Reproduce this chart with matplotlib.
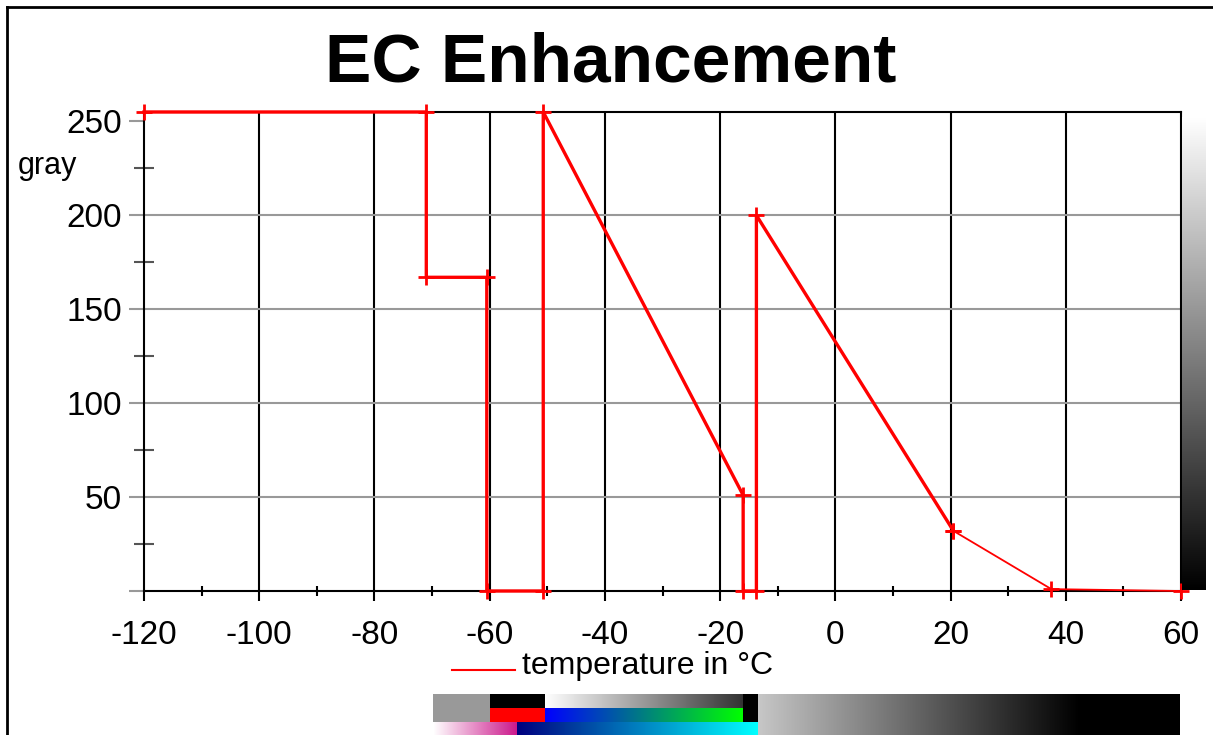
import numpy as np
import matplotlib
matplotlib.use("Agg")
import matplotlib.pyplot as plt
from matplotlib.lines import Line2D

plt.rcParams['font.family'] = ['Liberation Sans', 'DejaVu Sans']
plt.rcParams['axes.unicode_minus'] = False

# enhancement curve: temperature (deg C) -> gray level
temps = [-120, -71, -71, -60.5, -60.5, -50.7, -50.7, -16, -16, -13.7, -13.7, 20.5, 37.5, 60]
grays = [255, 255, 167, 167, 0, 0, 255, 51, 0, 0, 200, 32, 1, 0]

x_ticks = [-120, -100, -80, -60, -40, -20, 0, 20, 40, 60]
y_ticks = [0, 50, 100, 150, 200, 250]
y_labels = ['', '50', '100', '150', '200', '250']
grid_y = [50, 100, 150, 200]

W, H = 1213, 735
fig = plt.figure(figsize=(W / 100, H / 100), dpi=100)

ax = fig.add_axes([144 / W, 144 / H, 1037 / W, 479 / H])
ax.set_xlim(-120, 60)
ax.set_ylim(0, 255)

# grid
for gx in x_ticks[1:-1]:
    ax.axvline(gx, color='black', lw=1.5, zorder=1)
for gy in grid_y:
    ax.axhline(gy, color='#999999', lw=1.5, zorder=1)

# curve: thick part and thin tail
ax.plot(temps[:12], grays[:12], color='red', lw=2.4, marker='+', ms=12, mew=2,
        clip_on=False, zorder=3)
ax.plot(temps[11:], grays[11:], color='red', lw=1.3, marker='+', ms=12, mew=2,
        clip_on=False, zorder=3)

for s in ax.spines.values():
    s.set_color('black')
    s.set_linewidth(1.5)

ax.set_xticks(x_ticks)
ax.set_xticklabels([str(v) for v in x_ticks])
ax.set_xticks(np.arange(-110, 60, 20), minor=True)
ax.set_yticks(y_ticks)
ax.set_yticklabels(y_labels)
ax.set_yticks(np.arange(25, 250, 50), minor=True)

ax.tick_params(axis='x', which='major', direction='out', length=7, width=1.5,
               color='black', labelsize=24, pad=14)
ax.tick_params(axis='x', which='minor', direction='inout', length=7, width=1.5,
               color='black')
ax.tick_params(axis='y', which='major', direction='out', length=11, width=1.5,
               color='#999999', labelsize=24, pad=5)
ax.tick_params(axis='y', which='minor', direction='inout', length=14, width=1.5,
               color='#555555')

fig.text(611 / W, 1 - 63 / H, 'EC Enhancement', fontsize=50, fontweight='bold',
         ha='center', va='center')
fig.text(18 / W, 1 - 166 / H, 'gray', fontsize=22, ha='left', va='center')

# legend
fig.add_artist(Line2D([452 / W, 515 / W], [1 - 670 / H] * 2, color='red', lw=1.5))
fig.text(522 / W, 1 - 666 / H, 'temperature in \u00b0C', fontsize=23,
         ha='left', va='center')

# gray scale bar on the right
cax = fig.add_axes([1182 / W, (H - 590) / H, 24 / W, 473 / H])
levels = np.arange(256).reshape(-1, 1)
cax.imshow(levels, cmap='gray', origin='lower', aspect='auto', vmin=0, vmax=255)
cax.set_axis_off()

# palette strip at the bottom
pw, ph = 747, 41
strip = np.ones((ph, pw, 3))


def grad(c0, c1, n):
    t = np.linspace(0, 1, n)[:, None]
    return np.array(c0)[None, :] * (1 - t) + np.array(c1)[None, :] * t


strip[0:28, 0:57] = 0.6
strip[0:14, 57:112] = 0.0
strip[14:28, 57:112] = [1, 0, 0]
strip[0:14, 112:310] = grad([1, 1, 1], [0.2, 0.2, 0.2], 198)[None, :, :]
strip[14:28, 112:310] = grad([0, 0, 1], [0, 1, 0], 198)[None, :, :]
strip[0:28, 310:325] = 0.0
strip[28:41, 0:84] = grad([1, 1, 1], [0.8, 0.1, 0.55], 84)[None, :, :]
strip[28:41, 84:325] = grad([0, 0, 0.5], [0, 1, 1], 241)[None, :, :]
strip[:, 325:647] = grad([0.78, 0.78, 0.78], [0, 0, 0], 322)[None, :, :]
strip[:, 647:] = 0.0

pax = fig.add_axes([433 / W, 0, pw / W, ph / H])
pax.imshow(strip, aspect='auto', interpolation='nearest')
pax.set_axis_off()

# outer frame (left and top)
fig.add_artist(Line2D([7 / W, 7 / W], [0, 1 - 7 / H], color='black', lw=2))
fig.add_artist(Line2D([7 / W, 1], [1 - 7 / H] * 2, color='black', lw=2))

fig.savefig('out.png', dpi=100)
